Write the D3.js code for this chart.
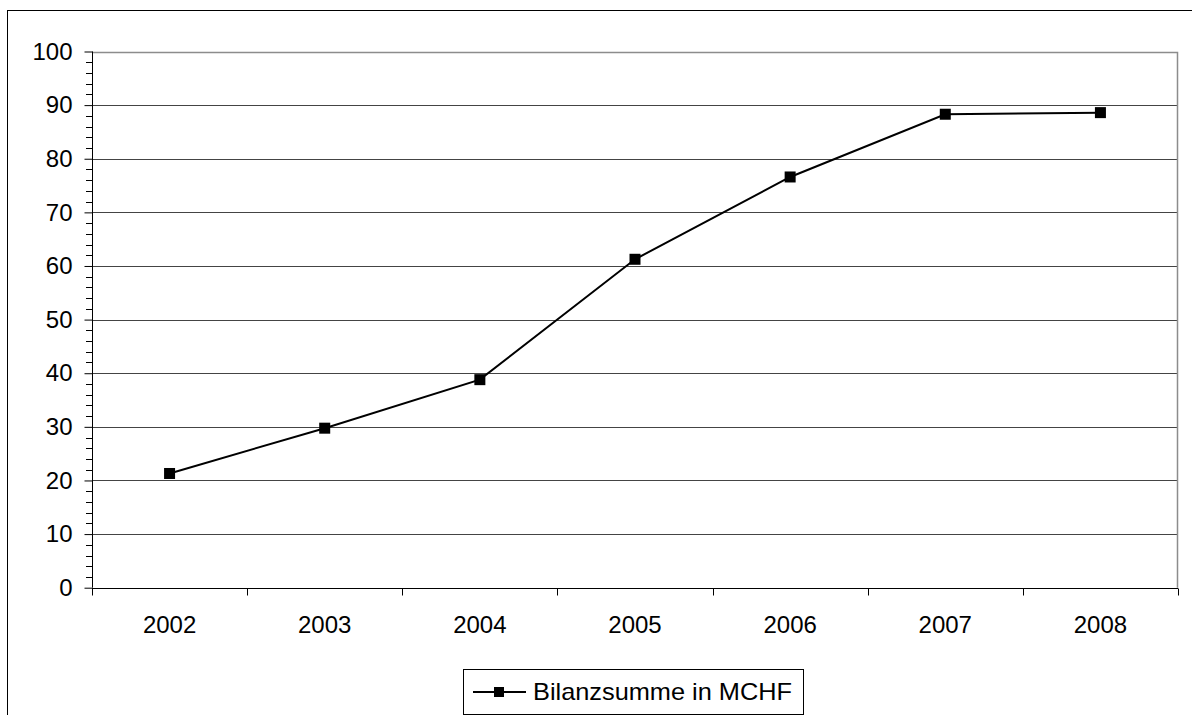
<!DOCTYPE html>
<html>
<head>
<meta charset="utf-8">
<script src="https://cdn.jsdelivr.net/npm/d3@7"></script>
<style>
  html, body { margin: 0; padding: 0; background: #fff; }
  svg { display: block; font-family: "Liberation Sans", Arial, sans-serif; }
</style>
</head>
<body>
<div id="chart"></div>
<script>
// Bilanzsumme in MCHF, 2002-2008
var years = ["2002", "2003", "2004", "2005", "2006", "2007", "2008"];
var bilanz = [21.3, 29.75, 38.8, 61.25, 76.6, 88.3, 88.6];
var yTicks = [0, 10, 20, 30, 40, 50, 60, 70, 80, 90, 100];
var seriesName = "Bilanzsumme in MCHF";

(function () {
  var W = 1192, H = 715;
  var left = 92, right = 1178, top = 51.5, bottom = 587.7;
  var fs = 24;

  var svg = d3.select("#chart").append("svg")
    .attr("width", W).attr("height", H);

  // outer chart frame (runs off the right and bottom edges)
  svg.append("rect")
    .attr("x", 7.5).attr("y", 10.5).attr("width", 1300).attr("height", 800)
    .attr("fill", "none").attr("stroke", "#000").attr("stroke-width", 1);

  var x = d3.scaleBand().domain(years).range([left, right]);
  var y = d3.scaleLinear().domain([0, 100]).range([bottom, top]);

  // gridlines
  svg.append("g").selectAll("line")
    .data(yTicks.filter(function (d) { return d > 0 && d < 100; }))
    .join("line")
    .attr("x1", left).attr("x2", right)
    .attr("y1", function (d) { return Math.round(y(d)) + 0.5; })
    .attr("y2", function (d) { return Math.round(y(d)) + 0.5; })
    .attr("stroke", "#444").attr("stroke-width", 1);

  // plot area border top/right (gray)
  svg.append("path")
    .attr("d", "M" + left + "," + (Math.round(top) + 0.5) +
      "H" + (right - 0.5) + "V" + bottom)
    .attr("fill", "none").attr("stroke", "#8c8c8c").attr("stroke-width", 1.5);

  // y axis with minor ticks every 2
  var minor = d3.range(0, 101, 2).filter(function (d) { return d % 10 !== 0; });
  svg.append("g").selectAll("line").data(minor).join("line")
    .attr("x1", left - 6).attr("x2", left)
    .attr("y1", function (d) { return Math.round(y(d)) + 0.5; })
    .attr("y2", function (d) { return Math.round(y(d)) + 0.5; })
    .attr("stroke", "#000");

  var yAxis = d3.axisLeft(y).tickValues(yTicks).tickSize(8).tickPadding(12)
    .tickFormat(d3.format("d"));
  var gy = svg.append("g").attr("transform", "translate(" + (left + 0.5) + ",0)")
    .call(yAxis);
  gy.select(".domain").attr("stroke", "#000").attr("d", "M0," + top + "V" + bottom);
  gy.selectAll("text").attr("font-size", fs).attr("fill", "#000")
    .attr("font-family", "Liberation Sans, Arial, sans-serif");

  // x axis: ticks on category boundaries
  var gx = svg.append("g").attr("transform", "translate(0," + (Math.round(bottom) + 0.5) + ")");
  gx.append("line").attr("x1", left).attr("x2", right).attr("stroke", "#000");
  var bounds = years.map(function (d) { return x(d); }).concat([right]);
  gx.selectAll("line.tk").data(bounds).join("line").attr("class", "tk")
    .attr("x1", function (d) { return Math.round(d) + 0.5; })
    .attr("x2", function (d) { return Math.round(d) + 0.5; })
    .attr("y1", 0).attr("y2", 7).attr("stroke", "#000");
  gx.selectAll("text").data(years).join("text")
    .attr("x", function (d) { return x(d) + x.bandwidth() / 2; })
    .attr("y", 44)
    .attr("text-anchor", "middle").attr("font-size", fs).attr("fill", "#000")
    .text(function (d) { return d; });

  // series line + square markers
  var pts = years.map(function (d, i) { return [x(d) + x.bandwidth() / 2, y(bilanz[i])]; });
  svg.append("path")
    .attr("d", d3.line()(pts))
    .attr("fill", "none").attr("stroke", "#000").attr("stroke-width", 2);
  svg.append("g").selectAll("rect").data(pts).join("rect")
    .attr("x", function (d) { return d[0] - 5.5; })
    .attr("y", function (d) { return d[1] - 5.5; })
    .attr("width", 11).attr("height", 11).attr("fill", "#000");

  // legend
  var lg = svg.append("g");
  lg.append("rect").attr("x", 463.5).attr("y", 669.5).attr("width", 340).attr("height", 45)
    .attr("fill", "#fff").attr("stroke", "#000").attr("stroke-width", 1);
  lg.append("line").attr("x1", 473).attr("x2", 526).attr("y1", 692).attr("y2", 692)
    .attr("stroke", "#000").attr("stroke-width", 2);
  lg.append("rect").attr("x", 494).attr("y", 687).attr("width", 10).attr("height", 10)
    .attr("fill", "#000");
  lg.append("text").attr("x", 533).attr("y", 700).attr("font-size", fs)
    .attr("textLength", 259).attr("lengthAdjust", "spacingAndGlyphs")
    .attr("fill", "#000").text(seriesName);
})();
</script>
</body>
</html>
